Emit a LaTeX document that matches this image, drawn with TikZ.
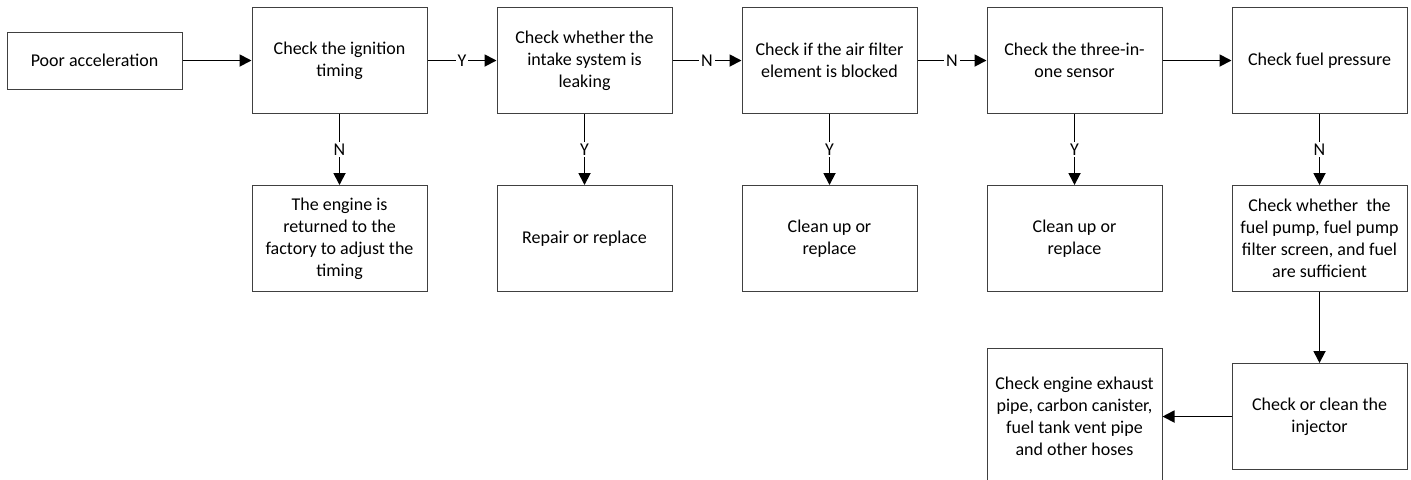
\documentclass[tikz,border=0pt]{standalone}
\usepackage{fontspec}
\setmainfont{Carlito}
\usetikzlibrary{arrows.meta, positioning}
\definecolor{cedge}{HTML}{404040}
\tikzset{
  every picture/.style={font=\fontsize{9pt}{11pt}\selectfont, line width=0.9pt},
  box/.style={draw=cedge, line width=0.5pt, align=center, inner sep=3pt, minimum width=87.5pt, minimum height=53pt},
  arrow/.style={-{Triangle[length=6pt, width=6pt]}, draw=black},
  tag/.style={fill=white, inner sep=1pt},
}

\begin{document}
\begin{tikzpicture}[node distance=34.5pt]
  \useasboundingbox (0,0) rectangle (705.5pt,-239.5pt);
  % top row
  \node[box, minimum height=28.5pt] (poor) at (47.25pt,-30.25pt) {Poor acceleration};
  \node[box, right=of poor] (ign) {Check the ignition\\timing};
  \node[box, right=of ign] (intake) {Check whether the\\intake system is\\leaking};
  \node[box, right=of intake] (filter) {Check if the air filter\\element is blocked};
  \node[box, right=of filter] (sensor) {Check the three-in-\\one sensor};
  \node[box, right=of sensor] (press) {Check fuel pressure};
  % second row
  \node[box, below=35.5pt of ign] (factory) {The engine is\\returned to the\\factory to adjust the\\timing};
  \node[box, below=35.5pt of intake] (repair) {Repair or replace};
  \node[box, below=35.5pt of filter] (clean1) {Clean up or\\replace};
  \node[box, below=35.5pt of sensor] (clean2) {Clean up or\\replace};
  \node[box, below=35.5pt of press] (pump) {Check whether\ \ the\\fuel pump, fuel pump\\filter screen, and fuel\\are sufficient};
  % bottom row
  \node[box, below=35.5pt of pump] (inj) {Check or clean the\\injector};
  \node[box, minimum height=68pt, left=of inj] (hoses) {Check engine exhaust\\pipe, carbon canister,\\fuel tank vent pipe\\and other hoses};
  \draw[arrow] (poor) -- (ign);
  \draw[arrow] (ign) -- node[tag] {Y} (intake);
  \draw[arrow] (intake) -- node[tag] {N} (filter);
  \draw[arrow] (filter) -- node[tag] {N} (sensor);
  \draw[arrow] (sensor) -- (press);
  \draw[arrow] (ign) -- node[tag] {N} (factory);
  \draw[arrow] (intake) -- node[tag] {Y} (repair);
  \draw[arrow] (filter) -- node[tag] {Y} (clean1);
  \draw[arrow] (sensor) -- node[tag] {Y} (clean2);
  \draw[arrow] (press) -- node[tag] {N} (pump);
  \draw[arrow] (pump) -- (inj);
  \draw[arrow] (inj) -- (hoses);
\end{tikzpicture}
\end{document}
